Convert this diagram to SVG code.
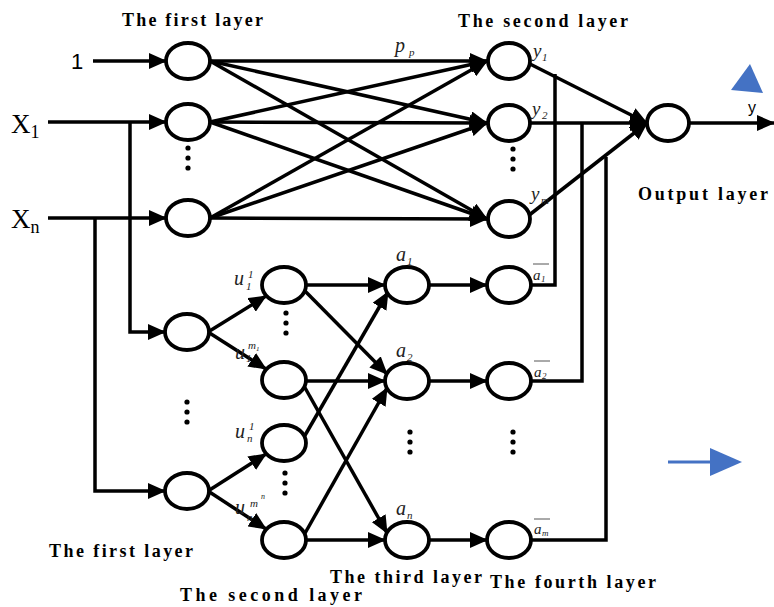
<svg xmlns="http://www.w3.org/2000/svg" width="774" height="607" viewBox="0 0 774 607">
<style>
.n{fill:#fff;stroke:#000;stroke-width:3.8}
.c{fill:none;stroke:#000;stroke-width:3.5}
.t{font-family:"Liberation Serif","Times New Roman",Times,serif;font-weight:bold;fill:#000}
.i{font-family:"Liberation Serif","Times New Roman",Times,serif;font-style:italic;fill:#222}
.s{font-family:"Liberation Serif","Times New Roman",Times,serif;fill:#000}
.a{font-family:"Liberation Sans",Arial,Helvetica,sans-serif;fill:#000}
.d{fill:#000}
</style>
<defs>
<marker id="ah" markerUnits="userSpaceOnUse" markerWidth="18" markerHeight="16" refX="17" refY="8" orient="auto"><path d="M0,0 L18,8 L0,16 z" fill="#000"/></marker>
</defs>
<rect width="774" height="607" fill="#fff"/>
<g id="connectors">
<line class="c" x1="93" y1="61" x2="166" y2="61" marker-end="url(#ah)"/>
<line class="c" x1="48" y1="122" x2="166" y2="122" marker-end="url(#ah)"/>
<line class="c" x1="48" y1="218" x2="166" y2="218" marker-end="url(#ah)"/>
<polyline class="c" points="130,122 130,332 165,332" marker-end="url(#ah)"/>
<polyline class="c" points="95,218 95,491 165,491" marker-end="url(#ah)"/>
<line class="c" x1="210" y1="61" x2="487" y2="61" marker-end="url(#ah)"/>
<line class="c" x1="210" y1="61" x2="487" y2="123" marker-end="url(#ah)"/>
<line class="c" x1="210" y1="61" x2="487" y2="219" marker-end="url(#ah)"/>
<line class="c" x1="210" y1="122" x2="487" y2="61" marker-end="url(#ah)"/>
<line class="c" x1="210" y1="122" x2="487" y2="123" marker-end="url(#ah)"/>
<line class="c" x1="210" y1="122" x2="487" y2="219" marker-end="url(#ah)"/>
<line class="c" x1="210" y1="218" x2="487" y2="61" marker-end="url(#ah)"/>
<line class="c" x1="210" y1="218" x2="487" y2="123" marker-end="url(#ah)"/>
<line class="c" x1="210" y1="218" x2="487" y2="219" marker-end="url(#ah)"/>
<line class="c" x1="528" y1="63" x2="647" y2="123" marker-end="url(#ah)"/>
<line class="c" x1="530" y1="123" x2="647" y2="123" marker-end="url(#ah)"/>
<line class="c" x1="528" y1="216" x2="647" y2="123" marker-end="url(#ah)"/>
<line class="c" x1="689" y1="123" x2="774" y2="123" marker-end="url(#ah)"/>
<line class="c" x1="208" y1="332" x2="266" y2="296" marker-end="url(#ah)"/>
<line class="c" x1="208" y1="332" x2="266" y2="369" marker-end="url(#ah)"/>
<line class="c" x1="208" y1="491" x2="266" y2="454" marker-end="url(#ah)"/>
<line class="c" x1="208" y1="491" x2="266" y2="529" marker-end="url(#ah)"/>
<line class="c" x1="306" y1="285" x2="385" y2="285" marker-end="url(#ah)"/>
<line class="c" x1="304" y1="290" x2="387" y2="374" marker-end="url(#ah)"/>
<line class="c" x1="306" y1="381" x2="385" y2="381" marker-end="url(#ah)"/>
<line class="c" x1="304" y1="386" x2="387" y2="533" marker-end="url(#ah)"/>
<line class="c" x1="304" y1="437" x2="388" y2="292" marker-end="url(#ah)"/>
<line class="c" x1="304" y1="535" x2="387" y2="388" marker-end="url(#ah)"/>
<line class="c" x1="306" y1="540" x2="385" y2="540" marker-end="url(#ah)"/>
<line class="c" x1="429" y1="285" x2="487" y2="285" marker-end="url(#ah)"/>
<line class="c" x1="429" y1="381" x2="487" y2="381" marker-end="url(#ah)"/>
<line class="c" x1="429" y1="540" x2="487" y2="540" marker-end="url(#ah)"/>
<polyline class="c" points="531,285 555,285 555,74"/>
<polyline class="c" points="531,381 582,381 582,123"/>
<polyline class="c" points="531,540 606,540 606,157"/>
</g>
<g id="L1a"><ellipse class="n" cx="188" cy="61" rx="22" ry="18"/></g>
<g id="L1b"><ellipse class="n" cx="188" cy="122" rx="22" ry="18"/></g>
<g id="L1c"><ellipse class="n" cx="188" cy="218" rx="22" ry="18"/></g>
<g id="L2a"><ellipse class="n" cx="509" cy="61" rx="21" ry="18"/></g>
<g id="L2b"><ellipse class="n" cx="509" cy="123" rx="21" ry="18"/></g>
<g id="L2c"><ellipse class="n" cx="509" cy="219" rx="21" ry="18"/></g>
<g id="out"><ellipse class="n" cx="668" cy="123" rx="21" ry="18"/></g>
<g id="C1"><ellipse class="n" cx="187" cy="332" rx="22" ry="18"/></g>
<g id="C2"><ellipse class="n" cx="187" cy="491" rx="22" ry="18"/></g>
<g id="M1"><ellipse class="n" cx="284" cy="285" rx="22" ry="18"/></g>
<g id="M2"><ellipse class="n" cx="284" cy="380" rx="22" ry="18"/></g>
<g id="M3"><ellipse class="n" cx="284" cy="443" rx="22" ry="18"/></g>
<g id="M4"><ellipse class="n" cx="284" cy="540" rx="22" ry="18"/></g>
<g id="T1"><ellipse class="n" cx="407" cy="285" rx="22" ry="18"/></g>
<g id="T2"><ellipse class="n" cx="407" cy="381" rx="22" ry="18"/></g>
<g id="T3"><ellipse class="n" cx="407" cy="540" rx="22" ry="18"/></g>
<g id="F1"><ellipse class="n" cx="509" cy="285" rx="22" ry="18"/></g>
<g id="F2"><ellipse class="n" cx="509" cy="381" rx="22" ry="18"/></g>
<g id="F3"><ellipse class="n" cx="509" cy="540" rx="22" ry="18"/></g>
<g id="dots">
<circle class="d" cx="188" cy="148" r="2.6"/><circle class="d" cx="188" cy="158" r="2.6"/><circle class="d" cx="188" cy="168" r="2.6"/>
<circle class="d" cx="513" cy="149" r="2.6"/><circle class="d" cx="513" cy="159" r="2.6"/><circle class="d" cx="513" cy="169" r="2.6"/>
<circle class="d" cx="187" cy="402" r="2.6"/><circle class="d" cx="187" cy="412" r="2.6"/><circle class="d" cx="187" cy="422" r="2.6"/>
<circle class="d" cx="286" cy="313" r="2.6"/><circle class="d" cx="286" cy="323" r="2.6"/><circle class="d" cx="286" cy="333" r="2.6"/>
<circle class="d" cx="285" cy="473" r="2.6"/><circle class="d" cx="285" cy="483" r="2.6"/><circle class="d" cx="285" cy="493" r="2.6"/>
<circle class="d" cx="410" cy="432" r="2.6"/><circle class="d" cx="410" cy="442" r="2.6"/><circle class="d" cx="410" cy="452" r="2.6"/>
<circle class="d" cx="513" cy="432" r="2.6"/><circle class="d" cx="513" cy="442" r="2.6"/><circle class="d" cx="513" cy="452" r="2.6"/>
</g>
<g id="labels">
<text class="t" x="122" y="26" font-size="18" textLength="141" lengthAdjust="spacing">The first layer</text>
<text class="t" x="458" y="27" font-size="18" textLength="170" lengthAdjust="spacing">The second layer</text>
<text class="t" x="638" y="200" font-size="18" textLength="130" lengthAdjust="spacing">Output layer</text>
<text class="t" x="49" y="557" font-size="18" textLength="144" lengthAdjust="spacing">The first layer</text>
<text class="t" x="180" y="601" font-size="18" textLength="182" lengthAdjust="spacing">The second layer</text>
<text class="t" x="330" y="583" font-size="18" textLength="152" lengthAdjust="spacing">The third layer</text>
<text class="t" x="490" y="588" font-size="18" textLength="166" lengthAdjust="spacing">The fourth layer</text>
<text class="a" x="71" y="69" font-size="22">1</text>
<text class="s" x="11" y="133" font-size="27">X<tspan font-size="18" dy="5">1</tspan></text>
<text class="s" x="11" y="228" font-size="27">X<tspan font-size="18" dy="5">n</tspan></text>
<text class="a" x="748" y="113" font-size="16">y</text>
<text class="i" x="395" y="52" font-size="20">p</text><text class="i" x="409" y="56" font-size="11">p</text>
<text class="i" x="533" y="57" font-size="19">y</text><text class="i" x="542" y="61" font-size="11">1</text>
<text class="i" x="532" y="115" font-size="19">y</text><text class="i" x="542" y="119" font-size="11">2</text>
<text class="i" x="531" y="200" font-size="19">y</text><text class="i" x="541" y="204" font-size="11">m</text>
<text class="i" x="234" y="285" font-size="20">u</text><text class="i" x="248" y="278" font-size="11">1</text><text class="i" x="246" y="290" font-size="11">1</text>
<text class="i" x="235" y="359" font-size="20">u</text><text class="i" x="248" y="349" font-size="11">m</text><text class="i" x="256" y="351" font-size="7">1</text><text class="i" x="246" y="362" font-size="11">1</text>
<text class="i" x="235" y="438" font-size="20">u</text><text class="i" x="249" y="430" font-size="11">1</text><text class="i" x="247" y="442" font-size="11">n</text>
<text class="i" x="235" y="514" font-size="20">u</text><text class="i" x="250" y="507" font-size="11">m</text><text class="i" x="261" y="499" font-size="8">n</text><text class="i" x="247" y="521" font-size="11">n</text>
<text class="i" x="396" y="261" font-size="20">a</text><text class="i" x="407" y="265" font-size="11">1</text>
<text class="i" x="396" y="357" font-size="20">a</text><text class="i" x="407" y="361" font-size="11">2</text>
<text class="i" x="396" y="515" font-size="20">a</text><text class="i" x="407" y="519" font-size="11">n</text>
<line x1="533" y1="264" x2="549" y2="264" stroke="#555" stroke-width="1"/>
<text class="i" x="533" y="280" font-size="15">a</text><text class="i" x="541" y="282" font-size="9">1</text>
<line x1="534" y1="361" x2="550" y2="361" stroke="#555" stroke-width="1"/>
<text class="i" x="534" y="377" font-size="15">a</text><text class="i" x="542" y="379" font-size="9">2</text>
<line x1="534" y1="519" x2="550" y2="519" stroke="#555" stroke-width="1"/>
<text class="i" x="534" y="534" font-size="15">a</text><text class="i" x="542" y="536" font-size="9">m</text>
</g>
<g id="blue">
<polygon points="731,90 750,64 763,93" fill="#4472C4"/>
<line x1="668" y1="462" x2="712" y2="462" stroke="#4472C4" stroke-width="3"/>
<polygon points="710,448 742,462 710,476" fill="#4472C4"/>
</g>
</svg>
